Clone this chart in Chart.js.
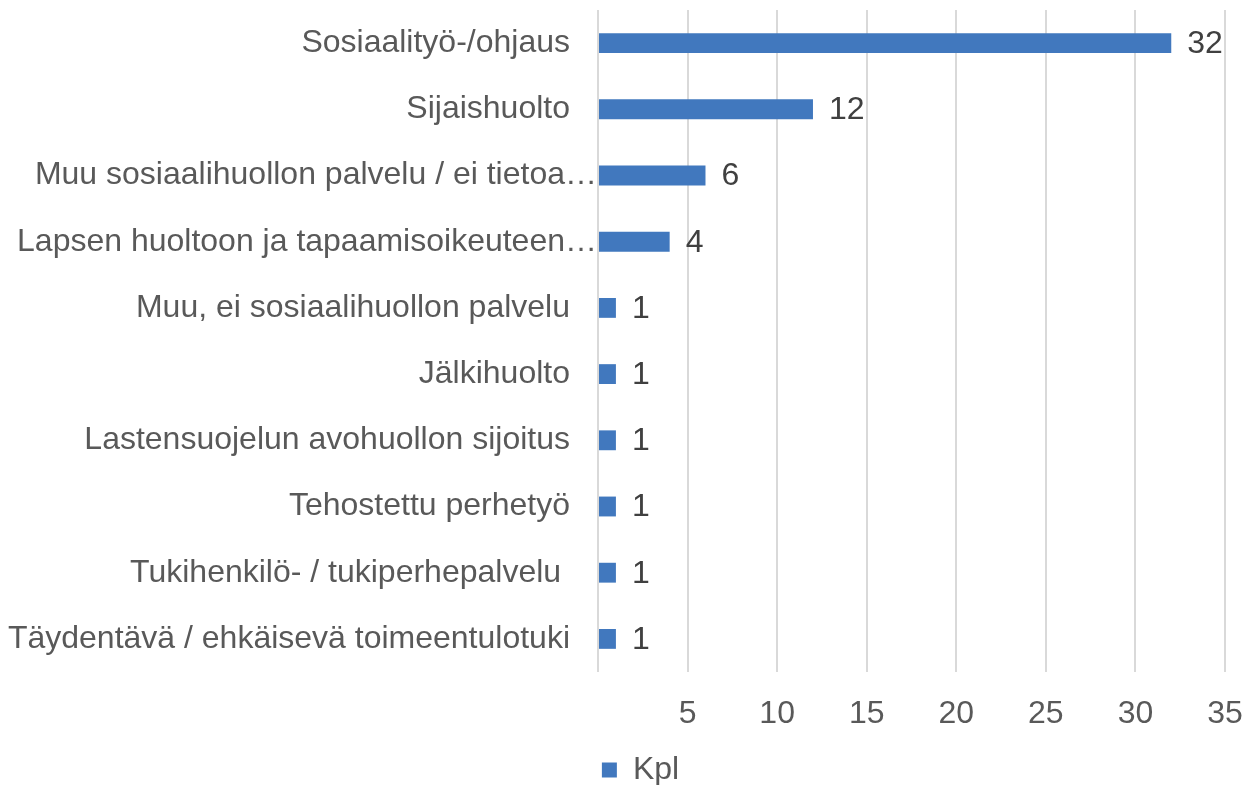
<!DOCTYPE html>
<html>
<head>
<meta charset="utf-8">
<script src="https://cdn.jsdelivr.net/npm/chart.js@4/dist/chart.umd.min.js"></script>
<style>
    html, body { margin: 0; padding: 0; background: #fff; }
    #wrap { width: 1244px; height: 785px; }
</style>
</head>
<body>
<div id="wrap"><canvas id="chart" width="1244" height="785"></canvas></div>
<script>
const CATEGORIES = [
    'Sosiaalityö-/ohjaus',
    'Sijaishuolto',
    'Muu sosiaalihuollon palvelu / ei tietoa…',
    'Lapsen huoltoon ja tapaamisoikeuteen…',
    'Muu, ei sosiaalihuollon palvelu',
    'Jälkihuolto',
    'Lastensuojelun avohuollon sijoitus',
    'Tehostettu perhetyö',
    'Tukihenkilö- / tukiperhepalvelu ',
    'Täydentävä / ehkäisevä toimeentulotuki',
];
const KPL = [32, 12, 6, 4, 1, 1, 1, 1, 1, 1];
const X_TICKS = [5, 10, 15, 20, 25, 30, 35];

const FONT = '"Liberation Sans", Arial, sans-serif';
const FONT_SIZE = 32;
const BAR_COLOR = '#4178be';
const LABEL_COLOR = '#595959';
const VALUE_COLOR = '#404040';

const isCut = (label) => label.endsWith('…');

// draws the number next to the end of each bar
const valueLabels = {
    id: 'valueLabels',
    afterDatasetsDraw(chart) {
        const ctx = chart.ctx;
        ctx.save();
        ctx.font = `${FONT_SIZE}px ${FONT}`;
        ctx.fillStyle = VALUE_COLOR;
        ctx.textAlign = 'left';
        ctx.textBaseline = 'middle';
        chart.getDatasetMeta(0).data.forEach((bar, i) => {
            ctx.fillText(String(KPL[i]), bar.x + 16, bar.y + 1);
        });
        ctx.restore();
    },
};

// truncated category labels run right up to the axis, like the original
const cutLabels = {
    id: 'cutLabels',
    afterDraw(chart) {
        const ctx = chart.ctx;
        const y = chart.scales.y;
        ctx.save();
        ctx.font = `${FONT_SIZE}px ${FONT}`;
        ctx.fillStyle = LABEL_COLOR;
        ctx.textAlign = 'right';
        ctx.textBaseline = 'middle';
        CATEGORIES.forEach((label, i) => {
            if (!isCut(label)) return;
            ctx.fillText(label, chart.chartArea.left - 1, y.getPixelForValue(i));
        });
        ctx.restore();
    },
};

// legend sits a bit right of the canvas centre in the original
const legendShift = {
    id: 'legendShift',
    afterLayout(chart) {
        chart.legend.left += 28;
        chart.legend.right += 28;
    },
};

new Chart(document.getElementById('chart'), {
    type: 'bar',
    data: {
        labels: CATEGORIES,
        datasets: [{
            label: 'Kpl',
            data: KPL,
            backgroundColor: BAR_COLOR,
            borderWidth: 0,
            barPercentage: 0.6,
            categoryPercentage: 0.5,
        }],
    },
    options: {
        indexAxis: 'y',
        responsive: false,
        animation: false,
        layout: { padding: { top: 10, right: 19, left: 0, bottom: -11 } },
        scales: {
            x: {
                min: 0,
                max: 35,
                afterBuildTicks(scale) {
                    scale.ticks = [0, ...X_TICKS].map(v => ({ value: v }));
                },
                afterFit(scale) {
                    scale.height = 78;
                    scale.paddingLeft = 0;
                    scale.paddingRight = 0;
                },
                ticks: {
                    color: LABEL_COLOR,
                    font: { family: FONT, size: FONT_SIZE },
                    padding: 23,
                    maxRotation: 0,
                    callback(value) { return value === 0 ? '' : String(value); },
                },
                grid: { color: '#d9d9d9', lineWidth: 2, drawTicks: false },
                border: { display: false },
            },
            y: {
                afterFit(scale) {
                    scale.width = 598;
                    scale.paddingTop = 0;
                    scale.paddingBottom = 0;
                },
                ticks: {
                    color: LABEL_COLOR,
                    font: { family: FONT, size: FONT_SIZE },
                    padding: 20,
                    autoSkip: false,
                    callback(value) {
                        const label = CATEGORIES[value];
                        return isCut(label) ? '' : label;
                    },
                },
                grid: { display: false },
                border: { display: false },
            },
        },
        plugins: {
            legend: {
                position: 'bottom',
                labels: {
                    color: LABEL_COLOR,
                    font: { family: FONT, size: FONT_SIZE },
                    boxWidth: 15,
                    boxHeight: 15,
                    padding: 4,
                },
            },
            tooltip: { enabled: false },
        },
    },
    plugins: [valueLabels, cutLabels, legendShift],
});
</script>
</body>
</html>
